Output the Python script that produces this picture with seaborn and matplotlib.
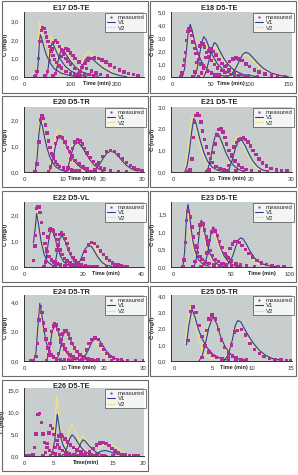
import numpy as np
import pandas as pd
import matplotlib
matplotlib.use("Agg")
import matplotlib.pyplot as plt
import seaborn as sns
from matplotlib.patches import Rectangle
from matplotlib.lines import Line2D

nan = float("nan")

# ---- E17 D5-TE ----
e17_meas_t = [22, 25, 28, 31, 34, 37, 40, 43, 46, 49, 52, 55, 58, 62, 66, 70, 75, 80, 90, 100, 110, 120, 130, nan,
              45, 50, 55, 60, 64, 68, 72, 76, 80, 85, 90, 95, 100, 110, 120, 130, 140, 150, nan,
              62, 68, 74, 80, 85, 90, 95, 100, 105, 110, 118, 126, 135, 145, 155, 165, 180, nan,
              110, 118, 125, 132, 138, 145, 152, 160, 168, 176, 185, 195, 205, 215, 225, 235, 245]
e17_meas_c = [0, 0.05, 0.3, 1.0, 1.9, 2.5, 2.65, 2.6, 2.4, 2.15, 1.9, 1.65, 1.4, 1.15, 0.95, 0.78, 0.6, 0.48, 0.3, 0.2, 0.12, 0.08, 0.05, nan,
              0.05, 0.3, 0.9, 1.5, 1.85, 1.95, 1.85, 1.65, 1.45, 1.2, 1.0, 0.82, 0.68, 0.45, 0.3, 0.2, 0.12, 0.08, nan,
              0.05, 0.2, 0.6, 1.1, 1.4, 1.52, 1.45, 1.3, 1.15, 1.0, 0.8, 0.62, 0.45, 0.32, 0.22, 0.15, 0.08, nan,
              0.05, 0.2, 0.5, 0.75, 0.92, 1.0, 1.03, 1.0, 0.92, 0.8, 0.65, 0.5, 0.38, 0.27, 0.18, 0.12, 0.08]
e17_v1_t = [27, 30, 33, 35, 38, 42, 48, 55, 65, 80, 100, 120, nan,
            48, 52, 56, 60, 64, 70, 78, 88, 100, 115, 135, nan,
            65, 70, 75, 81, 86, 92, 100, 110, 122, 140, 160, nan,
            110, 118, 125, 131, 137, 142, 150, 160, 172, 188, 205, 220]
e17_v1_c = [0, 0.6, 1.8, 2.28, 2.1, 1.7, 1.2, 0.8, 0.45, 0.2, 0.07, 0.02, nan,
            0, 0.5, 1.4, 1.83, 1.7, 1.35, 0.95, 0.6, 0.33, 0.15, 0.05, nan,
            0, 0.4, 1.1, 1.47, 1.4, 1.15, 0.85, 0.55, 0.3, 0.12, 0.04, nan,
            0, 0.15, 0.55, 0.9, 1.08, 1.05, 0.9, 0.68, 0.45, 0.22, 0.08, 0.02]
e17_v2_t = [26, 29, 31, 33, 36, 40, 46, 55, 65, 80, 100, nan,
            47, 51, 54, 57.5, 62, 68, 76, 86, 100, 120, nan,
            64, 69, 74, 80, 85, 92, 100, 112, 125, 145, nan,
            108, 116, 124, 131, 137, 143, 152, 165, 180, 200, 220]
e17_v2_c = [0, 0.8, 2.2, 2.96, 2.6, 2.0, 1.4, 0.85, 0.45, 0.18, 0.05, nan,
            0, 0.6, 1.6, 2.2, 2.0, 1.55, 1.05, 0.62, 0.28, 0.08, nan,
            0, 0.5, 1.3, 1.74, 1.62, 1.3, 0.92, 0.52, 0.25, 0.06, nan,
            0, 0.2, 0.7, 1.15, 1.38, 1.3, 1.05, 0.7, 0.38, 0.12, 0.03]

# ---- E18 D5-TE ----
e18_meas_t = [10, 12, 14, 15, 16.5, 18, 19.5, 21, 22.5, 24, 26, 28, 30, 33, 36, 40, 45, 50, 55, 60, 70, 80, nan,
              26, 29, 31, 33, 35, 37, 39, 41, 44, 47, 50, 54, 58, 63, 68, 75, 85, 95, nan,
              33, 37, 40, 43, 46, 48, 50, 53, 56, 60, 64, 68, 73, 80, 88, 98, 110, nan,
              55, 60, 65, 70, 74, 78, 82, 86, 90, 95, 100, 106, 112, 120, 128, 136, 145]
e18_meas_c = [0.05, 0.3, 0.9, 1.3, 1.9, 2.8, 3.5, 3.75, 3.6, 3.2, 2.7, 2.2, 1.8, 1.35, 1.0, 0.7, 0.45, 0.3, 0.2, 0.12, 0.06, 0.03, nan,
              0.05, 0.4, 1.1, 1.8, 2.4, 2.6, 2.55, 2.3, 1.9, 1.55, 1.25, 0.95, 0.7, 0.5, 0.35, 0.2, 0.1, 0.05, nan,
              0.05, 0.3, 0.9, 1.5, 2.0, 2.2, 2.15, 1.95, 1.7, 1.35, 1.05, 0.8, 0.55, 0.35, 0.2, 0.1, 0.05, nan,
              0.05, 0.2, 0.5, 0.9, 1.2, 1.4, 1.47, 1.4, 1.25, 1.0, 0.8, 0.55, 0.38, 0.22, 0.12, 0.07, 0.04]
e18_v1_t = [12, 15, 18, 20, 22.5, 25, 28, 32, 37, 45, 55, 70, nan,
            28, 31, 34, 37, 40, 43, 47, 52, 58, 66, 78, 95, nan,
            40, 43, 47, 50, 54, 57, 61, 66, 72, 80, 92, 110, nan,
            70, 76, 82, 87, 91, 95, 99, 104, 110, 118, 128, 140, 150]
e18_v1_c = [0, 0.6, 2.3, 3.5, 4.05, 3.6, 2.8, 1.9, 1.2, 0.55, 0.2, 0.05, nan,
            0, 0.5, 1.5, 2.5, 3.1, 2.9, 2.3, 1.6, 1.0, 0.5, 0.18, 0.04, nan,
            0, 0.4, 1.3, 2.1, 2.65, 2.5, 2.0, 1.45, 0.95, 0.5, 0.18, 0.03, nan,
            0, 0.2, 0.7, 1.3, 1.75, 1.9, 1.8, 1.5, 1.1, 0.65, 0.3, 0.1, 0.03]
e18_v2_t = [11, 14, 17, 19.5, 21.7, 24, 27, 31, 36, 44, 55, 70, nan,
            27, 30, 33, 36, 39, 42, 46, 51, 57, 65, 77, 95, nan,
            39, 42, 46, 49, 53, 56, 60, 65, 71, 79, 91, 110, nan,
            68, 74, 80, 85, 89, 93, 97, 102, 108, 116, 126, 138, 150]
e18_v2_c = [0, 0.7, 2.4, 3.4, 3.8, 3.3, 2.5, 1.7, 1.05, 0.5, 0.18, 0.04, nan,
            0, 0.5, 1.5, 2.4, 2.8, 2.6, 2.05, 1.45, 0.9, 0.45, 0.16, 0.04, nan,
            0, 0.4, 1.25, 1.95, 2.4, 2.25, 1.8, 1.3, 0.85, 0.45, 0.16, 0.03, nan,
            0, 0.2, 0.65, 1.2, 1.55, 1.7, 1.62, 1.35, 1.0, 0.6, 0.28, 0.09, 0.03]

# ---- E20 D5-TR ----
e20_meas_t = [2.8, 3.3, 3.8, 4.2, 4.6, 5.0, 5.4, 5.8, 6.2, 6.6, 7.0, 7.5, 8, 8.5, 9, 10, 11, 12, 13, 14, 16, 18, 20, 22, nan,
              6.2, 6.8, 7.4, 8.0, 8.6, 9.2, 9.8, 10.4, 11, 11.6, 12.2, 13, 14, 15, 16, 18, 20, 22, 24, nan,
              10.5, 11.2, 11.8, 12.4, 13.0, 13.6, 14.2, 14.8, 15.4, 16, 16.8, 17.6, 18.5, 19.5, 20.5, 22, 24, 26, nan,
              17, 18, 19, 20, 21, 22, 23, 24, 25, 26, 27, 28, 29, 30]
e20_meas_c = [0.0, 0.3, 1.15, 2.0, 2.15, 2.05, 1.8, 1.5, 1.2, 0.95, 0.72, 0.52, 0.38, 0.28, 0.22, 0.15, 0.1, 0.07, 0.05, 0.04, 0.03, 0.02, 0.02, 0.01, nan,
              0.02, 0.2, 0.65, 1.1, 1.32, 1.37, 1.3, 1.15, 0.95, 0.78, 0.62, 0.45, 0.3, 0.2, 0.13, 0.07, 0.04, 0.03, 0.02, nan,
              0.02, 0.15, 0.5, 0.9, 1.15, 1.25, 1.2, 1.08, 0.9, 0.73, 0.55, 0.4, 0.27, 0.17, 0.11, 0.06, 0.03, 0.02, nan,
              0.02, 0.1, 0.35, 0.6, 0.78, 0.82, 0.78, 0.65, 0.5, 0.36, 0.24, 0.15, 0.09, 0.05]
e20_v1_t = [2.8, 3.3, 3.8, 4.25, 4.7, 5.2, 5.8, 6.5, 7.3, 8.2, 9.5, 11, nan,
            6.2, 6.8, 7.4, 8.0, 8.6, 9.2, 9.8, 10.5, 11.3, 12.2, 13.3, 14.6, 16, nan,
            10.5, 11.2, 11.8, 12.5, 13.3, 14, 14.8, 15.7, 16.7, 17.8, 19, 20.5, nan,
            17, 18, 19, 20, 21, 22, 23, 24, 25, 26, 27.5, 29]
e20_v1_c = [0, 0.5, 1.5, 1.97, 1.75, 1.35, 0.95, 0.6, 0.35, 0.18, 0.07, 0.02, nan,
            0, 0.15, 0.55, 1.0, 1.3, 1.38, 1.3, 1.1, 0.82, 0.55, 0.32, 0.15, 0.05, nan,
            0, 0.2, 0.55, 0.95, 1.15, 1.1, 0.95, 0.72, 0.48, 0.27, 0.12, 0.04, nan,
            0, 0.07, 0.25, 0.5, 0.72, 0.8, 0.75, 0.6, 0.42, 0.26, 0.1, 0.03]
e20_v2_t = [2.7, 3.2, 3.7, 4.1, 4.6, 5.1, 5.7, 6.4, 7.2, 8.1, 9.4, 11, nan,
            6.0, 6.6, 7.2, 7.8, 8.3, 8.75, 9.3, 10, 10.8, 11.7, 12.8, 14.1, 15.5, nan,
            10.3, 11, 11.6, 12.3, 13, 13.7, 14.5, 15.4, 16.4, 17.5, 18.7, 20.2, nan,
            16.8, 17.8, 18.8, 19.8, 20.8, 21.7, 22.7, 23.7, 24.7, 25.7, 27.2, 28.7]
e20_v2_c = [0, 0.6, 1.7, 2.2, 1.95, 1.5, 1.05, 0.65, 0.38, 0.19, 0.07, 0.02, nan,
            0, 0.2, 0.7, 1.25, 1.55, 1.66, 1.55, 1.28, 0.92, 0.6, 0.34, 0.16, 0.05, nan,
            0, 0.22, 0.6, 1.05, 1.28, 1.22, 1.02, 0.76, 0.5, 0.28, 0.12, 0.04, nan,
            0, 0.08, 0.28, 0.55, 0.77, 0.85, 0.8, 0.64, 0.45, 0.28, 0.11, 0.03]

# ---- E21 D5-TE ----
e21_meas_t = [3.8, 4.3, 4.8, 5.2, 5.5, 5.9, 6.3, 6.7, 7.1, 7.5, 8.0, 8.5, 9.0, 9.5, 10, 11, 12, 13, 14, 16, 18, 20, nan,
              8.5, 9.2, 9.8, 10.3, 10.7, 11.2, 11.7, 12.2, 12.7, 13.2, 13.7, 14.3, 15, 15.8, 16.7, 17.6, 18.6, 20, 22, 24, nan,
              13.5, 14.2, 14.9, 15.5, 16.1, 16.7, 17.3, 17.9, 18.5, 19.1, 19.7, 20.4, 21.1, 21.9, 22.8, 23.8, 25, 26.3, 27.6, 29]
e21_meas_c = [0.0, 0.1, 0.6, 1.6, 2.3, 2.6, 2.68, 2.6, 2.3, 1.9, 1.5, 1.15, 0.85, 0.62, 0.45, 0.25, 0.15, 0.1, 0.06, 0.04, 0.03, 0.02, nan,
              0.02, 0.1, 0.45, 0.9, 1.3, 1.7, 1.95, 2.0, 1.85, 1.6, 1.3, 1.0, 0.72, 0.5, 0.32, 0.2, 0.12, 0.06, 0.03, 0.02, nan,
              0.02, 0.3, 0.8, 1.15, 1.35, 1.48, 1.55, 1.56, 1.5, 1.38, 1.2, 1.0, 0.8, 0.6, 0.42, 0.28, 0.17, 0.1, 0.06, 0.04]
e21_v1_t = [3.0, 3.6, 4.2, 4.8, 5.3, 5.8, 6.4, 7.1, 7.9, 8.8, 10, 11.5, 13, nan,
            8.3, 9.0, 9.6, 10.3, 11.0, 11.7, 12.5, 13.4, 14.4, 15.5, 16.8, 18.3, nan,
            13.5, 14.3, 15.1, 15.9, 16.8, 17.6, 18.4, 19.3, 20.3, 21.4, 22.7, 24.2]
e21_v1_c = [0, 0.3, 1.0, 1.9, 2.47, 2.3, 1.85, 1.35, 0.88, 0.5, 0.22, 0.07, 0.02, nan,
            0, 0.2, 0.65, 1.35, 1.8, 1.7, 1.35, 0.92, 0.55, 0.28, 0.11, 0.03, nan,
            0, 0.15, 0.55, 1.1, 1.48, 1.45, 1.2, 0.85, 0.52, 0.27, 0.1, 0.03]
e21_v2_t = [2.7, 3.3, 3.9, 4.4, 4.9, 5.4, 6.0, 6.7, 7.5, 8.4, 9.6, 11, 12.5, nan,
            8.2, 8.9, 9.5, 10.2, 11.0, 11.7, 12.5, 13.4, 14.4, 15.5, 16.8, 18.3, nan,
            13.0, 13.8, 14.6, 15.4, 16.2, 17.0, 17.8, 18.7, 19.7, 20.8, 22.1, 23.6]
e21_v2_c = [0, 0.35, 1.2, 2.1, 2.55, 2.35, 1.85, 1.3, 0.82, 0.45, 0.18, 0.05, 0.01, nan,
            0, 0.2, 0.65, 1.3, 1.75, 1.65, 1.3, 0.88, 0.5, 0.25, 0.1, 0.03, nan,
            0, 0.18, 0.65, 1.3, 1.68, 1.6, 1.3, 0.9, 0.55, 0.28, 0.1, 0.03]

# ---- E22 D5-VL ----
e22_meas_t = [3.2, 3.7, 4.0, 4.3, 4.7, 5.1, 5.5, 6.0, 6.6, 7.2, 7.8, 8.5, 9.3, 10.2, 11.2, 12.5, 14, 16, 18, 20, 22, 25, 28, 31, 34, nan,
              6.8, 7.3, 7.7, 8.1, 8.6, 9.1, 9.6, 10.1, 10.6, 11.1, 11.6, 12.2, 12.9, 13.7, 14.6, 15.6, 17, 19, 21, 24, nan,
              10, 10.6, 11.2, 11.7, 12.2, 12.8, 13.4, 14, 14.6, 15.2, 15.9, 16.6, 17.4, 18.3, 19.5, 21, 23, 25, nan,
              18, 19, 20, 21, 22, 23, 24, 25, 26, 27, 28, 29, 30, 31, 32, 33, 34, 35]
e22_meas_c = [0.25, 0.8, 1.22, 2.25, 2.3, 2.3, 2.1, 1.72, 1.28, 0.9, 0.6, 0.4, 0.27, 0.18, 0.12, 0.08, 0.06, 0.04, 0.03, 0.02, 0.02, 0.01, 0.01, 0.01, 0.01, nan,
              0.02, 0.2, 0.7, 1.15, 1.42, 1.47, 1.45, 1.38, 1.25, 1.05, 0.85, 0.65, 0.47, 0.33, 0.23, 0.15, 0.09, 0.05, 0.03, 0.02, nan,
              0.02, 0.2, 0.65, 1.05, 1.25, 1.3, 1.25, 1.1, 0.9, 0.7, 0.52, 0.37, 0.25, 0.16, 0.1, 0.06, 0.03, 0.02, nan,
              0.03, 0.1, 0.3, 0.6, 0.85, 0.95, 0.9, 0.78, 0.62, 0.47, 0.34, 0.24, 0.16, 0.1, 0.07, 0.05, 0.03, 0.02]
e22_v1_t = [3.2, 3.8, 4.3, 5.0, 5.8, 6.8, 8.0, 9.5, 11, nan,
            6.8, 7.5, 8.2, 8.8, 9.4, 10, 10.7, 11.5, 12.4, 13.5, 15, 17, nan,
            10, 10.7, 11.4, 12.1, 12.8, 13.5, 14.3, 15.2, 16.2, 17.4, 19, 21, nan,
            17, 18.5, 19.5, 20.5, 21.9, 23, 24, 25, 26.5, 28, 30]
e22_v1_c = [0.93, 1.5, 2.06, 1.6, 1.0, 0.5, 0.2, 0.07, 0.02, nan,
            0, 0.3, 0.9, 1.3, 1.41, 1.32, 1.05, 0.72, 0.42, 0.2, 0.07, 0.02, nan,
            0, 0.2, 0.65, 1.05, 1.2, 1.12, 0.9, 0.62, 0.37, 0.18, 0.06, 0.02, nan,
            0, 0.1, 0.35, 0.65, 0.84, 0.78, 0.6, 0.4, 0.18, 0.07, 0.02]
e22_v2_t = [3.2, 3.8, 4.5, 5.1, 5.8, 6.6, 7.6, 8.8, 10.2, 11.5, nan,
            6.6, 7.3, 8.0, 8.6, 9.3, 9.9, 10.6, 11.4, 12.3, 13.4, 14.8, 16.5, nan,
            10.2, 10.9, 11.6, 12.3, 13.0, 13.7, 14.5, 15.4, 16.4, 17.6, 19.2, 21, nan,
            17.5, 19, 20, 21, 22.5, 23.5, 24.5, 25.5, 27, 28.5, 30.5]
e22_v2_c = [0.95, 1.6, 2.22, 1.7, 1.1, 0.6, 0.28, 0.1, 0.03, 0.01, nan,
            0, 0.3, 0.95, 1.38, 1.5, 1.4, 1.12, 0.78, 0.46, 0.22, 0.08, 0.02, nan,
            0, 0.22, 0.7, 1.12, 1.3, 1.2, 0.95, 0.65, 0.38, 0.18, 0.06, 0.02, nan,
            0, 0.12, 0.38, 0.68, 0.9, 0.85, 0.66, 0.45, 0.2, 0.08, 0.02]

# ---- E23 D5-TE ----
e23_meas_t = [8.6, 9.6, 10.6, 11.4, 12.3, 13.4, 14.9, 16.3, 17.7, 19.1, 21, 23, 25, 28, 31, 35, 40, 45, 50, nan,
              17, 19, 20.5, 22, 23.3, 24.5, 25.8, 27, 28.5, 30, 32, 34, 36.5, 39, 42, 46, 50, 55, nan,
              24, 27, 29, 31, 33, 34.5, 36, 38, 40, 42, 44.5, 47, 50, 54, 58, 63, 70, nan,
              40, 43, 46, 49, 51, 53, 55, 57, 59, 62, 65, 68, 72, 76, 80, 85, 90, 95]
e23_meas_c = [0.0, 0.2, 0.7, 1.33, 1.58, 1.58, 1.42, 1.14, 0.85, 0.62, 0.42, 0.3, 0.22, 0.14, 0.1, 0.06, 0.04, 0.03, 0.02, nan,
              0.0, 0.15, 0.55, 0.95, 1.2, 1.27, 1.22, 1.05, 0.85, 0.66, 0.47, 0.33, 0.22, 0.15, 0.1, 0.06, 0.04, 0.02, nan,
              0.0, 0.1, 0.4, 0.75, 1.0, 1.07, 1.03, 0.9, 0.72, 0.55, 0.38, 0.26, 0.17, 0.1, 0.06, 0.04, 0.02, nan,
              0.02, 0.1, 0.3, 0.52, 0.65, 0.72, 0.73, 0.7, 0.62, 0.5, 0.38, 0.28, 0.18, 0.11, 0.07, 0.04, 0.02, 0.01]
e23_v1_t = [8.5, 10, 11, 12, 12.9, 14, 15.5, 17, 19, 22, 26, 31, nan,
            18, 20, 22, 23.3, 24.3, 25.5, 27, 29, 31.5, 34.5, 38, 43, nan,
            25, 28, 30.5, 32.5, 34.3, 36, 38, 40.5, 43.5, 47, 51, 56, nan,
            42, 47, 51, 54, 56, 58, 60, 63, 66, 70, 75, 81, 88]
e23_v1_c = [0, 0.45, 1.1, 1.6, 1.78, 1.55, 1.1, 0.75, 0.45, 0.2, 0.07, 0.02, nan,
            0, 0.25, 0.8, 1.2, 1.33, 1.25, 1.0, 0.68, 0.4, 0.2, 0.08, 0.02, nan,
            0, 0.15, 0.55, 0.95, 1.14, 1.08, 0.85, 0.58, 0.33, 0.16, 0.06, 0.02, nan,
            0, 0.08, 0.3, 0.6, 0.77, 0.83, 0.8, 0.65, 0.45, 0.25, 0.11, 0.04, 0.01]
e23_v2_t = [8.3, 9.8, 10.8, 11.5, 12.2, 13.3, 14.8, 16.3, 18.3, 21.3, 25.3, 30, nan,
            17.5, 19.5, 21.5, 22.8, 23.7, 25, 26.5, 28.5, 31, 34, 37.5, 42, nan,
            24.5, 27.5, 30, 32, 33.7, 35.4, 37.4, 39.9, 42.9, 46.4, 50.4, 55, nan,
            41, 46, 50, 53, 55, 56.3, 58, 61, 64, 68, 73, 79, 86]
e23_v2_c = [0, 0.5, 1.15, 1.5, 1.62, 1.42, 1.02, 0.7, 0.42, 0.19, 0.07, 0.02, nan,
            0, 0.28, 0.8, 1.1, 1.2, 1.12, 0.9, 0.62, 0.37, 0.18, 0.07, 0.02, nan,
            0, 0.15, 0.55, 0.88, 1.05, 0.98, 0.78, 0.53, 0.3, 0.15, 0.06, 0.02, nan,
            0, 0.08, 0.28, 0.52, 0.66, 0.71, 0.68, 0.55, 0.39, 0.22, 0.1, 0.04, 0.01]

# ---- E24 D5-TR ----
e24_meas_t = [1.5, 2.2, 2.8, 3.2, 3.6, 4.0, 4.4, 4.8, 5.1, 5.4, 5.8, 6.2, 6.7, 7.3, 8, 9, 10, 11, 12, 14, 16, 18, 20, nan,
              5.5, 6.0, 6.4, 6.8, 7.2, 7.6, 8.0, 8.4, 8.8, 9.2, 9.7, 10.2, 10.8, 11.5, 12.3, 13.2, 14.5, 16, 18, 20, nan,
              8.0, 8.5, 9.0, 9.5, 10.0, 10.5, 11.0, 11.5, 12.0, 12.6, 13.2, 14, 15, 16, 17, 18.5, 20, 22, nan,
              14, 14.8, 15.6, 16.3, 17, 17.8, 18.6, 19.3, 20, 20.8, 21.6, 22.5, 23.5, 24.5, 26, 28, 30]
e24_meas_c = [0, 0.05, 0.3, 1.2, 2.8, 3.7, 3.3, 2.6, 2.1, 1.5, 0.9, 0.6, 0.4, 0.27, 0.18, 0.12, 0.08, 0.06, 0.05, 0.04, 0.03, 0.02, 0.02, nan,
              0.02, 0.4, 1.2, 2.0, 2.4, 2.52, 2.45, 2.15, 1.8, 1.45, 1.1, 0.82, 0.58, 0.4, 0.27, 0.18, 0.1, 0.06, 0.03, 0.02, nan,
              0.02, 0.5, 1.3, 1.85, 2.05, 2.05, 1.85, 1.55, 1.2, 0.9, 0.65, 0.42, 0.26, 0.16, 0.1, 0.06, 0.03, 0.02, nan,
              0.05, 0.3, 0.75, 1.2, 1.45, 1.58, 1.45, 1.1, 0.78, 0.5, 0.32, 0.2, 0.12, 0.07, 0.04, 0.02, 0.01]
e24_v1_t = [2.2, 2.8, 3.3, 3.8, 4.3, 4.8, 5.4, 6.1, 7, 8.2, 10, nan,
            5.5, 6.2, 6.9, 7.6, 8.2, 8.9, 9.7, 10.6, 11.7, 13, nan,
            8, 8.8, 9.6, 10.3, 11, 11.8, 12.7, 13.8, 15, 16.5, nan,
            14, 15, 16, 17, 17.9, 18.8, 19.8, 20.8, 22, 23.5, 25]
e24_v1_c = [0, 0.5, 2.3, 3.93, 3.2, 2.2, 1.3, 0.7, 0.3, 0.1, 0.02, nan,
            0, 0.7, 2.0, 2.45, 2.2, 1.6, 1.0, 0.55, 0.22, 0.06, nan,
            0, 0.6, 1.7, 2.05, 1.8, 1.3, 0.8, 0.4, 0.15, 0.04, nan,
            0, 0.2, 0.7, 1.3, 1.55, 1.45, 1.05, 0.62, 0.3, 0.1, 0.03]
e24_v2_t = [2.1, 2.7, 3.2, 3.6, 4.1, 4.6, 5.2, 5.9, 6.8, 8, 9.8, nan,
            5.3, 6.0, 6.7, 7.3, 7.9, 8.6, 9.4, 10.3, 11.4, 12.7, nan,
            7.8, 8.6, 9.3, 10.0, 10.7, 11.5, 12.4, 13.5, 14.7, 16.2, nan,
            13.2, 14.2, 15.2, 16.1, 16.9, 17.8, 18.8, 19.8, 21, 22.5, 24]
e24_v2_c = [0, 0.6, 2.4, 3.6, 3.0, 2.1, 1.25, 0.68, 0.3, 0.1, 0.02, nan,
            0, 0.75, 1.95, 2.4, 2.15, 1.55, 0.98, 0.52, 0.2, 0.05, nan,
            0, 0.65, 1.65, 2.0, 1.78, 1.28, 0.78, 0.38, 0.14, 0.04, nan,
            0, 0.2, 0.65, 1.2, 1.43, 1.35, 1.0, 0.6, 0.3, 0.1, 0.03]

# ---- E25 D5-TR ----
e25_meas_t = [1.8, 2.1, 2.45, 2.8, 3.2, 3.6, 4.0, 4.5, 5.0, 5.5, 6.2, 7, 8, 9, nan,
              3.6, 3.9, 4.2, 4.5, 4.9, 5.3, 5.7, 6.1, 6.5, 7.0, 7.5, 8.0, 8.6, 9.3, nan,
              7.0, 7.4, 7.8, 8.2, 8.7, 9.2, 9.8, 10.4, 11.0, 11.6, 12.3, 13, 13.8, 14.5, 15]
e25_meas_c = [1.25, 3.05, 3.35, 3.0, 2.2, 1.5, 0.95, 0.55, 0.35, 0.22, 0.12, 0.06, 0.03, 0.02, nan,
              0.2, 0.9, 1.9, 2.6, 2.85, 2.6, 1.95, 1.3, 0.85, 0.5, 0.3, 0.18, 0.1, 0.05, nan,
              0.3, 1.0, 1.8, 1.9, 1.95, 1.6, 1.1, 0.72, 0.45, 0.28, 0.17, 0.1, 0.06, 0.04, 0.03]
e25_v1_t = [1.6, 1.9, 2.3, 2.7, 3.1, 3.6, 4.2, 5.0, 6.0, 7.0, nan,
            3.2, 3.6, 4.0, 4.5, 5.0, 5.5, 6.0, 6.6, 7.3, 8.1, 9.0, nan,
            6.4, 7.0, 7.5, 7.9, 8.2, 8.6, 9.0, 9.6, 10.3, 11.0, 11.8, 12.7, 13.8]
e25_v1_c = [1.0, 2.2, 3.2, 2.7, 2.0, 1.4, 0.85, 0.42, 0.15, 0.05, nan,
            0, 0.3, 1.0, 2.1, 2.75, 2.3, 1.5, 0.85, 0.42, 0.16, 0.05, nan,
            0, 0.4, 1.3, 2.2, 2.5, 2.42, 2.05, 1.55, 1.05, 0.65, 0.35, 0.15, 0.05]
e25_v2_t = [1.4, 1.7, 2.0, 2.15, 2.5, 2.9, 3.3, 3.7, 4.2, 4.8, 5.6, 6.5, nan,
            3.1, 3.5, 3.9, 4.3, 4.7, 5.0, 5.4, 5.9, 6.4, 7.0, 7.7, 8.5, nan,
            6.3, 6.9, 7.4, 7.8, 8.1, 8.5, 9.0, 9.6, 10.3, 11.1, 12.0, 13.0]
e25_v2_c = [1.1, 2.2, 3.1, 3.4, 3.0, 2.0, 1.2, 0.65, 0.32, 0.14, 0.05, 0.02, nan,
            0, 0.4, 1.2, 2.1, 2.7, 2.85, 2.4, 1.6, 0.95, 0.45, 0.18, 0.05, nan,
            0, 0.45, 1.25, 1.85, 2.05, 1.98, 1.7, 1.28, 0.85, 0.5, 0.24, 0.08]

# ---- E26 D5-TE ----
e26_meas_t = [0.5, 1.0, 1.5, 1.8, 2.0, 2.35, 2.6, 2.9, 3.2, 3.5, 3.9, 4.3, 4.8, 5.3, 6, 7, 8, 9, 10, 11, 12, nan,
              3.2, 3.6, 3.9, 4.2, 4.5, 4.75, 5.0, 5.3, 5.6, 6.0, 6.5, 7, 7.6, 8.3, 9.2, 10.2, 11.5, 13, nan,
              4.5, 4.9, 5.3, 5.6, 5.9, 6.2, 6.5, 6.9, 7.3, 7.8, 8.3, 8.9, 9.6, 10.4, 11.3, 12.3, 13.5, 15, nan,
              9.5, 10.3, 11, 11.6, 12.2, 12.8, 13.3, 13.8, 14.3, 14.8, 15.3, 15.9, 16.5, 17.1, 17.8, 18.5, 19.2]
e26_meas_c = [0, 0.05, 0.4, 2.0, 5.0, 9.5, 9.7, 7.6, 5.0, 3.1, 1.9, 1.2, 0.7, 0.45, 0.3, 0.2, 0.15, 0.1, 0.08, 0.06, 0.05, nan,
              0.1, 0.8, 2.9, 5.2, 7.0, 6.3, 4.9, 3.6, 2.6, 1.8, 1.2, 0.8, 0.5, 0.3, 0.18, 0.1, 0.05, 0.03, nan,
              0.1, 0.6, 2.0, 3.5, 4.6, 4.8, 4.5, 3.9, 3.2, 2.5, 1.9, 1.4, 0.95, 0.6, 0.38, 0.22, 0.12, 0.06, nan,
              0.05, 0.3, 0.9, 1.7, 2.5, 2.95, 3.1, 2.9, 2.4, 1.7, 1.1, 0.7, 0.4, 0.25, 0.15, 0.1, 0.05]
e26_v1_t = [4.4, 4.8, 5.2, 5.6, 5.9, 6.2, 6.6, 7.1, 7.7, 8.5, 9.5, nan,
            6.3, 6.8, 7.3, 7.7, 8.1, 8.5, 9.0, 9.6, 10.3, 11.2, 12.2, nan,
            8.0, 8.6, 9.2, 9.6, 9.9, 10.3, 10.8, 11.4, 12.1, 13.0, 14.0, nan,
            10.5, 11.5, 12.3, 13.0, 13.6, 14.2, 15.0, 16.0, 17.0]
e26_v1_c = [0, 0.8, 4.0, 9.5, 7.0, 4.2, 2.4, 1.2, 0.5, 0.15, 0.03, nan,
            0, 0.5, 2.2, 4.0, 4.85, 4.3, 3.2, 2.0, 1.0, 0.35, 0.08, nan,
            0, 0.4, 1.8, 3.0, 3.7, 3.4, 2.6, 1.7, 0.9, 0.3, 0.06, nan,
            0, 0.15, 0.6, 1.1, 1.25, 1.1, 0.7, 0.3, 0.08]
e26_v2_t = [4.4, 4.8, 5.1, 5.5, 5.8, 6.1, 6.5, 7.0, 7.6, 8.4, 9.4, nan,
            6.2, 6.7, 7.2, 7.6, 8.0, 8.4, 8.9, 9.5, 10.2, 11.1, 12.1, nan,
            7.9, 8.5, 9.1, 9.5, 9.8, 10.2, 10.7, 11.3, 12.0, 12.9, 13.9, nan,
            10.5, 11.5, 12.3, 13.0, 13.6, 14.1, 14.7, 15.4, 16.2, 17.0, 17.8]
e26_v2_c = [0, 1.2, 5.0, 13.7, 10.0, 6.0, 3.4, 1.7, 0.7, 0.2, 0.04, nan,
            0, 0.8, 3.2, 5.8, 7.2, 6.4, 4.7, 3.0, 1.5, 0.5, 0.1, nan,
            0, 0.5, 2.2, 3.7, 4.5, 4.2, 3.2, 2.1, 1.1, 0.4, 0.08, nan,
            0, 0.3, 1.1, 2.1, 2.7, 2.9, 2.7, 2.1, 1.3, 0.6, 0.2]

titles = ["E17 D5-TE", "E18 D5-TE", "E20 D5-TR", "E21 D5-TE", "E22 D5-VL",
          "E23 D5-TE", "E24 D5-TR", "E25 D5-TR", "E26 D5-TE"]

MAG = "#b32d98"
BLUE = "#2b3f8c"
YEL = "#f2e27a"
PLOT_BG = "#c8cece"

W, H = 298, 475

# panel settings: data, axis limits, ticks (label "" = hidden by the x title), x title and its position
panels = [
    dict(meas=(e17_meas_t, e17_meas_c), v1=(e17_v1_t, e17_v1_c), v2=(e17_v2_t, e17_v2_c),
         xlim=(0, 258), xticks=[0, 100, 200], xtl=["0", "100", "200"],
         ylim=(0, 3.5), yticks=[0, 1, 2, 3], xl="Time (min)", xlx=0.61),
    dict(meas=(e18_meas_t, e18_meas_c), v1=(e18_v1_t, e18_v1_c), v2=(e18_v2_t, e18_v2_c),
         xlim=(-2.5, 155), xticks=[0, 50, 100, 150], xtl=["0", "50", "100", "150"],
         ylim=(0, 5), yticks=[0, 1, 2, 3, 4, 5], xl="Time (min)", xlx=0.495),
    dict(meas=(e20_meas_t, e20_meas_c), v1=(e20_v1_t, e20_v1_c), v2=(e20_v2_t, e20_v2_c),
         xlim=(0, 30.5), xticks=[0, 10, 20, 30], xtl=["0", "10", "20", "30"],
         ylim=(0, 2.5), yticks=[0, 1, 2], xl="Time (min)", xlx=0.48),
    dict(meas=(e21_meas_t, e21_meas_c), v1=(e21_v1_t, e21_v1_c), v2=(e21_v2_t, e21_v2_c),
         xlim=(-0.5, 30.3), xticks=[0, 10, 20, 30], xtl=["0", "10", "20", "30"],
         ylim=(0, 3), yticks=[0, 1, 2, 3], xl="Time (min)", xlx=0.5),
    dict(meas=(e22_meas_t, e22_meas_c), v1=(e22_v1_t, e22_v1_c), v2=(e22_v2_t, e22_v2_c),
         xlim=(0, 40.8), xticks=[0, 20, 40], xtl=["0", "20", "40"],
         ylim=(0, 2.5), yticks=[0, 1, 2], xl="Time (min)", xlx=0.68),
    dict(meas=(e23_meas_t, e23_meas_c), v1=(e23_v1_t, e23_v1_c), v2=(e23_v2_t, e23_v2_c),
         xlim=(-1.7, 102), xticks=[0, 50, 100], xtl=["0", "50", "100"],
         ylim=(0, 1.85), yticks=[0, 0.5, 1, 1.5], xl="Time (min)", xlx=0.75),
    dict(meas=(e24_meas_t, e24_meas_c), v1=(e24_v1_t, e24_v1_c), v2=(e24_v2_t, e24_v2_c),
         xlim=(-0.2, 30.2), xticks=[0, 10, 20, 30], xtl=["0", "10", "20", "30"],
         ylim=(0, 4.5), yticks=[0, 2, 4], xl="Time (min)", xlx=0.48),
    dict(meas=(e25_meas_t, e25_meas_c), v1=(e25_v1_t, e25_v1_c), v2=(e25_v2_t, e25_v2_c),
         xlim=(-0.4, 15.2), xticks=[0, 5, 10, 15], xtl=["0", "5", "10", "15"],
         ylim=(0, 4.08), yticks=[0, 1, 2, 3, 4], xl="Time (min)", xlx=0.52),
    dict(meas=(e26_meas_t, e26_meas_c), v1=(e26_v1_t, e26_v1_c), v2=(e26_v2_t, e26_v2_c),
         xlim=(0, 20.2), xticks=[0, 5, 10, 15, 20], xtl=["0", "5", "", "15", "20"],
         ylim=(0, 15.5), yticks=[0, 5, 10, 15], xl="Time(min)", xlx=0.52),
]

# pixel boxes: plot areas and panel frames
ax_cols = [(24, 144), (171, 292)]
frame_cols = [(2, 148), (150, 296)]
ax_rows = [(12, 77), (107, 172), (202, 267), (295, 361), (388, 456)]
frame_rows = [(1, 93), (96, 187), (191, 282), (286, 376), (380, 471)]


def to_frame(t, c):
    rows, seg = [], 0
    for ti, ci in zip(t, c):
        if np.isnan(ti):
            seg += 1
            continue
        rows.append((ti, ci, seg))
    return pd.DataFrame(rows, columns=["t", "c", "peak"])


def comma(v):
    return f"{v:.1f}".replace(".", ",")


sns.set_style("white")
plt.rcParams["font.family"] = ["Liberation Sans", "DejaVu Sans"]

fig = plt.figure(figsize=(W / 100, H / 100), dpi=100)
fig.patch.set_facecolor("white")

for i, p in enumerate(panels):
    col, row = i % 2, i // 2
    x0, x1 = ax_cols[col]
    y0, y1 = ax_rows[row]
    fx0, fx1 = frame_cols[col]
    fy0, fy1 = frame_rows[row]

    fig.add_artist(Rectangle((fx0 / W, 1 - fy1 / H), (fx1 - fx0) / W, (fy1 - fy0) / H,
                             transform=fig.transFigure, fill=False, edgecolor="#6a6a6a", lw=0.8))

    ax = fig.add_axes([x0 / W, 1 - y1 / H, (x1 - x0) / W, (y1 - y0) / H])
    ax.set_facecolor(PLOT_BG)

    meas = to_frame(*p["meas"])
    v1 = to_frame(*p["v1"])
    v2 = to_frame(*p["v2"])

    sns.lineplot(data=v2, x="t", y="c", units="peak", estimator=None, sort=False,
                 color=YEL, lw=0.8, ax=ax, legend=False)
    sns.lineplot(data=v1, x="t", y="c", units="peak", estimator=None, sort=False,
                 color=BLUE, lw=0.8, ax=ax, legend=False)
    sns.scatterplot(data=meas, x="t", y="c", marker="s", s=6, color=MAG,
                    edgecolor="none", linewidth=0, ax=ax, legend=False, zorder=3)

    ax.set_xlim(*p["xlim"])
    ax.set_ylim(*p["ylim"])
    ax.set_xticks(p["xticks"])
    ax.set_xticklabels(p["xtl"])
    ax.set_yticks(p["yticks"])
    ax.set_yticklabels([comma(v) for v in p["yticks"]])
    ax.tick_params(axis="both", labelsize=4.3, length=1.8, width=0.5, pad=1.5,
                   colors="#333333", direction="out")
    for s in ["top", "right"]:
        ax.spines[s].set_visible(False)
    for s in ["left", "bottom"]:
        ax.spines[s].set_color("#333333")
        ax.spines[s].set_linewidth(0.7)

    ax.set_ylabel("C (mg/l)", fontsize=4.3, fontweight="bold", labelpad=2)
    ax.set_xlabel(p["xl"], fontsize=4.0, fontweight="bold")
    ax.xaxis.set_label_coords(p["xlx"], -0.055)

    fig.text(((fx0 + fx1) / 2 - 4) / W, 1 - (fy0 + 7) / H, titles[i],
             ha="center", va="center", fontsize=5.3, fontweight="bold")

    handles = [Line2D([], [], ls="none", marker="s", ms=1.8, color=MAG, mec="none"),
               Line2D([], [], color=BLUE, lw=0.8),
               Line2D([], [], color=YEL, lw=0.8)]
    leg = ax.legend(handles, ["measured", "V1", "V2"], loc="upper right",
                    bbox_to_anchor=(1.02, 0.99), fontsize=4.3, frameon=True, fancybox=False,
                    handlelength=1.4, handletextpad=0.4, labelspacing=0.05, borderpad=0.3,
                    borderaxespad=0.0)
    leg.get_frame().set_edgecolor("#222222")
    leg.get_frame().set_linewidth(0.5)
    leg.get_frame().set_facecolor("white")

fig.savefig("out.png", dpi=100, facecolor="white")
